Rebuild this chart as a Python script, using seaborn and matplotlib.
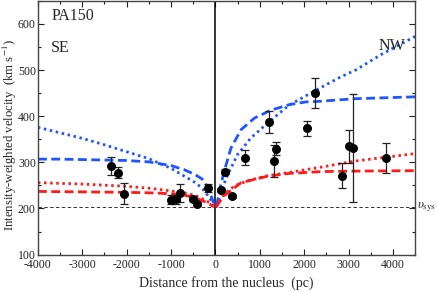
import numpy as np
import seaborn as sns
import matplotlib
matplotlib.use("Agg")
import matplotlib.pyplot as plt
from matplotlib.ticker import MultipleLocator

# observed points (pc, km/s)
dist = [-2360, -2200, -2070, -1000, -884, -793, -510, -411, -157,
        128, 225, 375, 674, 1205, 1311, 1363, 2075, 2240, 2861, 3011, 3108, 3850]
vel = [292, 277, 232, 219, 220, 233, 221, 210, 245,
       240, 280, 226, 310, 388, 303, 330, 374, 450, 271, 335, 331, 310]
err = [19, 12, 23, 10, 10, 19, 5, 4, 9,
       5, 5, 4, 16, 24, 34, 15, 16, 33, 27, 36, 118, 33]

# model curves, south-east side
se_x = [-4000, -3500, -3000, -2500, -2000, -1500, -1000, -700, -450, -300, -180, -100, -40]
se_blue_dash = [307, 307, 306, 305, 304, 301, 293, 284, 273, 264, 248, 228, 212]
se_blue_dot = [376, 364, 352, 338, 323, 308, 287, 270, 256, 244, 229, 218, 208]
se_red_x = [-4000, -3000, -2000, -1500, -1000, -700, -450, -250, -120, -40]
se_red_dot = [256, 253, 248, 244, 238, 234, 228, 219, 212, 206]
se_red_dash = [237, 236, 235, 234, 232, 229, 223, 215, 209, 204]

# model curves, north-west side
nw_bdash_x = [20, 50, 100, 200, 350, 580, 880, 1250, 1660, 2040, 2300, 3160, 4500]
nw_blue_dash = [205, 217, 243, 281, 331, 371, 396, 413, 425, 431, 432, 438, 442]
nw_bdot_x = [20, 90, 180, 280, 500, 800, 1175, 1660, 2260, 2800, 3160, 3760, 4500]
nw_blue_dot = [205, 224, 250, 274, 317, 353, 385, 424, 456, 484, 500, 535, 573]
nw_rdot_x = [20, 50, 120, 200, 430, 730, 1175, 1660, 2400, 3160, 4500]
nw_red_dot = [203, 210, 222, 231, 249, 260, 271, 278, 290, 303, 319]
nw_rdash_x = [20, 50, 120, 200, 580, 1175, 1660, 2400, 3160, 4500]
nw_red_dash = [203, 208, 218, 228, 256, 270, 276, 280, 281, 282]

v_sys = 203

sns.set_theme(style="ticks")
plt.rcParams['font.family'] = ['Liberation Serif', 'DejaVu Serif']
plt.rcParams['mathtext.fontset'] = 'stix'
plt.rcParams['axes.unicode_minus'] = False

fig = plt.figure(figsize=(4.36, 2.92), dpi=100)
ax = fig.add_axes([0.087, 0.128, 0.865, 0.869])

blue = '#1f55ff'
red = '#ff1a1a'
dash = (0, (3.2, 1.6))
dot = (0, (0.9, 1.3))

for xs, ys, c, ls in [(se_x, se_blue_dash, blue, dash), (se_x, se_blue_dot, blue, dot),
                      (se_red_x, se_red_dot, red, dot), (se_red_x, se_red_dash, red, dash),
                      (nw_bdash_x, nw_blue_dash, blue, dash), (nw_bdot_x, nw_blue_dot, blue, dot),
                      (nw_rdot_x, nw_red_dot, red, dot), (nw_rdash_x, nw_red_dash, red, dash)]:
    sns.lineplot(x=xs, y=ys, color=c, linestyle=ls, linewidth=2.0,
                 estimator=None, sort=True, ax=ax, zorder=2)

ax.errorbar(dist, vel, yerr=err, fmt='none', ecolor='#222222', elinewidth=0.9,
            capsize=2.6, capthick=0.9, zorder=3)
sns.scatterplot(x=dist, y=vel, color='black', s=42, edgecolor='black', linewidth=0,
                ax=ax, zorder=4)

ax.axvline(0, color='black', lw=1.1, zorder=1)
ax.axhline(v_sys, color='#333333', lw=0.7, ls=(0, (3.5, 2.5)), zorder=1)

ax.set_xlim(-4000, 4500)
ax.set_ylim(100, 650)
ax.xaxis.set_major_locator(MultipleLocator(1000))
ax.xaxis.set_minor_locator(MultipleLocator(500))
ax.yaxis.set_major_locator(MultipleLocator(100))
ax.yaxis.set_minor_locator(MultipleLocator(50))
ax.tick_params(which='both', direction='in', top=True, right=True, labelsize=8.5,
               colors='#222222')
ax.tick_params(axis='x', pad=3.5)
ax.tick_params(axis='y', pad=1.5)
ax.tick_params(which='major', length=4, width=0.8)
ax.tick_params(which='minor', length=2, width=0.8)
for s in ax.spines.values():
    s.set_linewidth(1.0)
    s.set_color('#444444')

ax.set_xlabel('Distance from the nucleus  (pc)', fontsize=10)
ax.xaxis.set_label_coords(0.5, -0.085)
ax.set_ylabel('Intensity-weighted velocity  (km s$^{-1}$)', fontsize=9.2)
ax.yaxis.set_label_coords(-0.05, 0.473)

ax.text(0.035, 0.97, 'PA150', transform=ax.transAxes, fontsize=11.5, va='top')
ax.text(0.035, 0.845, 'SE', transform=ax.transAxes, fontsize=11.5, va='top')
ax.text(0.94, 0.855, 'NW', transform=ax.transAxes, fontsize=11.5, va='top', ha='center')
ax.text(1.005, v_sys, r'$\upsilon_{\rm sys}$', transform=ax.get_yaxis_transform(),
        fontsize=9, va='center', ha='left')

fig.savefig('out.png', dpi=100)
